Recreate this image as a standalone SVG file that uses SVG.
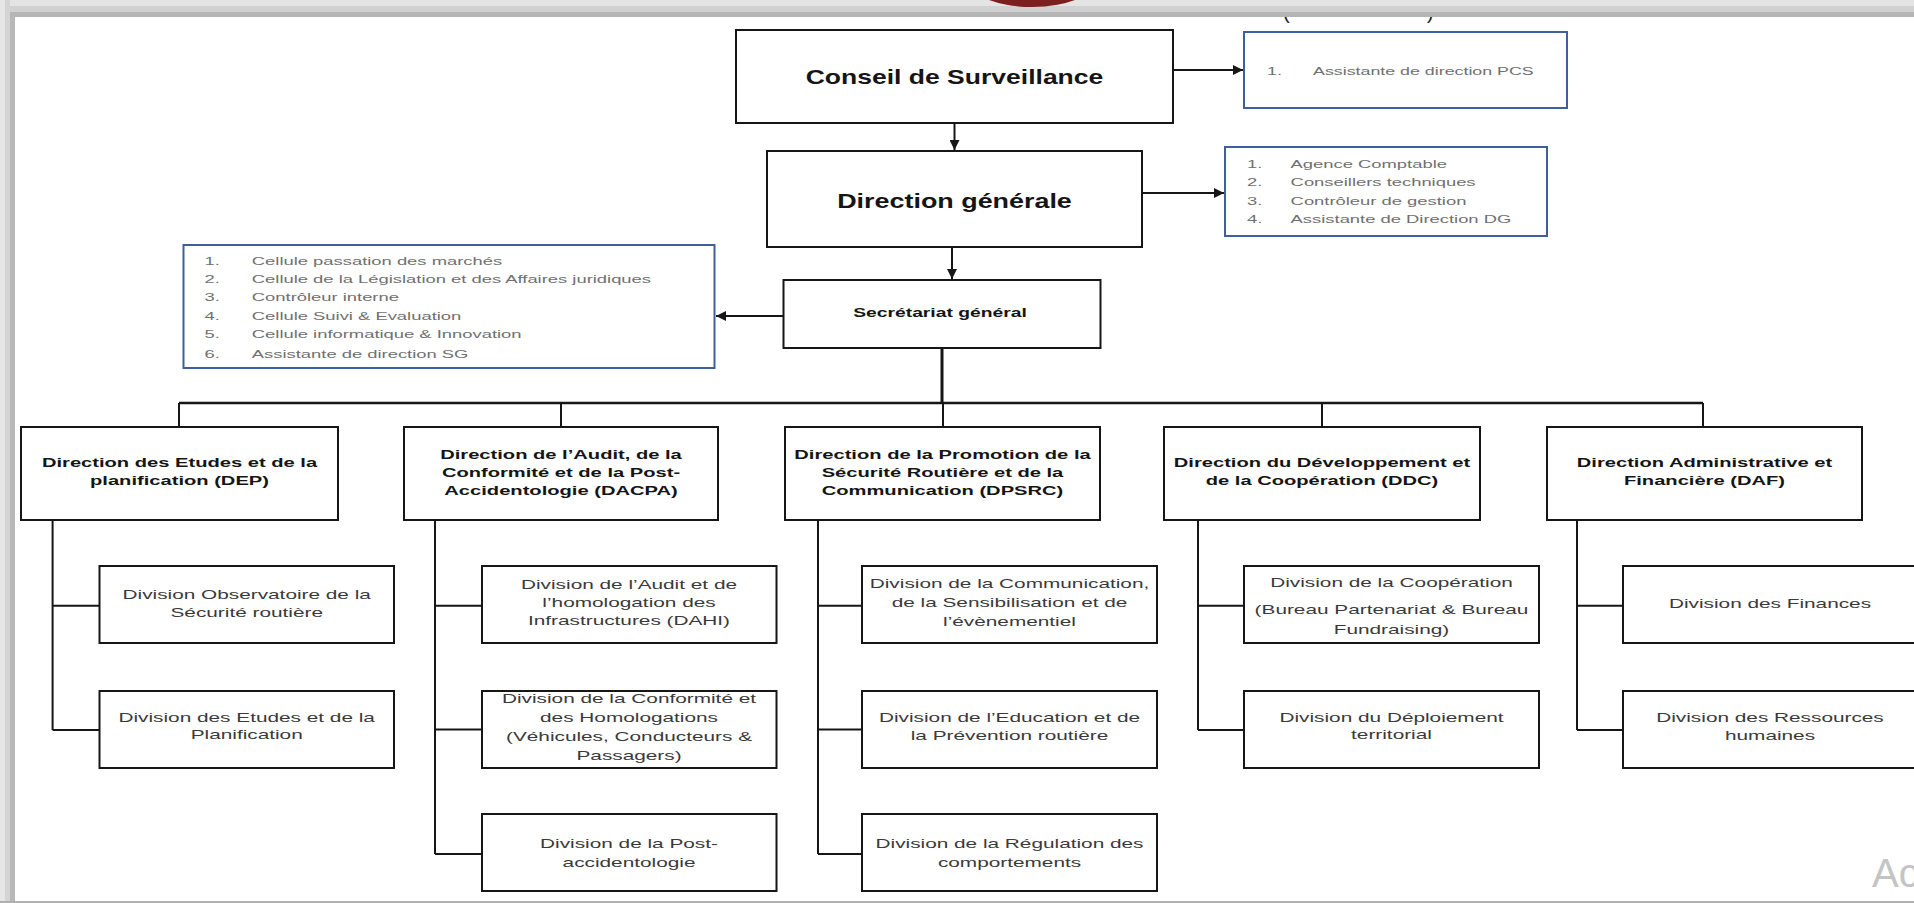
<svg xmlns="http://www.w3.org/2000/svg" width="1914" height="903" viewBox="0 0 1914 903">
<defs>
<style>
.box{fill:#fff;stroke:#161616;stroke-width:2}
.bbox{fill:#fff;stroke:#3e5f9c;stroke-width:2}
.ln{stroke:#161616;stroke-width:2;fill:none}
.b{font-family:"Liberation Sans",Arial,sans-serif;font-weight:bold;fill:#151515;text-anchor:middle}
.d{font-family:"Liberation Sans",Arial,sans-serif;font-size:13px;fill:#3a3a3a;text-anchor:middle}
.t{font-family:"Liberation Sans",Arial,sans-serif;font-weight:bold;font-size:13px;fill:#151515;text-anchor:middle}
.l{font-family:"Liberation Sans",Arial,sans-serif;font-size:11.5px;fill:#707070}
</style>
<marker id="ah" viewBox="0 0 10 10" refX="10" refY="5" markerWidth="10" markerHeight="10" markerUnits="userSpaceOnUse" orient="auto"><path d="M0,0L10,5L0,10z" fill="#161616"/></marker>
</defs>
<rect width="1914" height="903" fill="#fff"/>
<text x="1283" y="19" style="font-family:'Liberation Sans',sans-serif;font-size:20px;fill:#222">(</text>
<text x="1427" y="19" style="font-family:'Liberation Sans',sans-serif;font-size:20px;fill:#222">)</text>
<rect x="0" y="0" width="1914" height="6" fill="#e4e4e4"/>
<rect x="0" y="6" width="1914" height="6" fill="#d1d1d1"/>
<rect x="0" y="12" width="1914" height="5" fill="#b5b5b5"/>
<rect x="0" y="0" width="5" height="903" fill="#e6e6e6"/>
<rect x="5" y="0" width="5" height="903" fill="#d4d4d4"/>
<rect x="10" y="17" width="5" height="886" fill="#b8b8b8"/>
<ellipse cx="1032" cy="-22" rx="66" ry="29" fill="#7e1f1f"/>
<rect x="0" y="901" width="1914" height="2" fill="#b0b0b0"/>

<g id="connectors">
<path class="ln" d="M1173,70H1243" marker-end="url(#ah)"/>
<path class="ln" d="M954.5,123V150" marker-end="url(#ah)"/>
<path class="ln" d="M1142,193H1224" marker-end="url(#ah)"/>
<path class="ln" d="M952,247V279" marker-end="url(#ah)"/>
<path class="ln" d="M783.5,316H716" marker-end="url(#ah)"/>
<path class="ln" style="stroke-width:3" d="M942,348V403"/>
<path class="ln" style="stroke-width:2.5" d="M179,403H1703"/>
<path class="ln" d="M179,403V427M561,403V427M943,403V427M1322,403V427M1703,403V427"/>
<path class="ln" d="M52.6,520V730M52.6,605.7H99.5M52.6,730H99.5"/>
<path class="ln" d="M435,520V854M435,605.7H482M435,729.5H482M435,854H482"/>
<path class="ln" d="M818,520V854M818,605.7H862M818,729.5H862M818,854H862"/>
<path class="ln" d="M1198,520V730M1198,605.7H1244M1198,730H1244"/>
<path class="ln" d="M1577,520V730M1577,605.7H1623M1577,730H1623"/>
</g>

<g id="cs">
<rect class="box" x="736" y="30" width="437" height="93"/>
<text class="b" style="font-size:19.5px" transform="translate(954.5,0) scale(1.36,1)" x="0" y="84">Conseil de Surveillance</text>
</g>
<g id="pcs">
<rect class="bbox" x="1244" y="32" width="323" height="76"/>
<text class="l" transform="translate(1267,0) scale(1.55,1)" x="0" y="75.5">1.</text>
<text class="l" transform="translate(1313,0) scale(1.55,1)" x="0" y="75.5">Assistante de direction  PCS</text>
</g>
<g id="dg">
<rect class="box" x="767" y="151" width="375" height="96"/>
<text class="b" style="font-size:19.5px" transform="translate(954.5,0) scale(1.38,1)" x="0" y="208">Direction générale</text>
</g>
<g id="dglist">
<rect class="bbox" x="1225" y="147" width="322" height="89"/>
<text class="l" transform="translate(1247,0) scale(1.6,1)"><tspan x="0" y="168">1.</tspan><tspan x="0" y="186.3">2.</tspan><tspan x="0" y="204.7">3.</tspan><tspan x="0" y="223">4.</tspan></text>
<text class="l" transform="translate(1290.6,0) scale(1.6,1)"><tspan x="0" y="168">Agence  Comptable</tspan><tspan x="0" y="186.3">Conseillers techniques</tspan><tspan x="0" y="204.7">Contrôleur de gestion</tspan><tspan x="0" y="223">Assistante de Direction  DG</tspan></text>
</g>
<g id="sg">
<rect class="box" x="783.5" y="280" width="317" height="68"/>
<text class="b" style="font-size:13.5px" transform="translate(940,0) scale(1.43,1)" x="0" y="317">Secrétariat général</text>
</g>
<g id="sglist">
<rect class="bbox" x="183.5" y="245" width="531" height="123"/>
<text class="l" transform="translate(204.5,0) scale(1.6,1)"><tspan x="0" y="264.7">1.</tspan><tspan x="0" y="283.3">2.</tspan><tspan x="0" y="301.3">3.</tspan><tspan x="0" y="319.7">4.</tspan><tspan x="0" y="337.7">5.</tspan><tspan x="0" y="357.7">6.</tspan></text>
<text class="l" transform="translate(251.8,0) scale(1.6,1)"><tspan x="0" y="264.7">Cellule passation des marchés</tspan><tspan x="0" y="283.3">Cellule de la Législation et des Affaires  juridiques</tspan><tspan x="0" y="301.3">Contrôleur interne</tspan><tspan x="0" y="319.7">Cellule Suivi &amp; Evaluation</tspan><tspan x="0" y="337.7">Cellule informatique &amp; Innovation</tspan><tspan x="0" y="357.7">Assistante de direction  SG</tspan></text>
</g>

<g id="dep">
<rect class="box" x="21" y="427" width="317" height="93"/>
<text class="t" transform="translate(179.5,0) scale(1.55,1)"><tspan x="0" y="467.5">Direction des Etudes et de la</tspan><tspan x="0" y="485.5">planification (DEP)</tspan></text>
</g>
<g id="dacpa">
<rect class="box" x="404" y="427" width="314" height="93"/>
<text class="t" transform="translate(561,0) scale(1.55,1)"><tspan x="0" y="459.5">Direction de l’Audit, de la</tspan><tspan x="0" y="477.5">Conformité et de la Post-</tspan><tspan x="0" y="495.5">Accidentologie (DACPA)</tspan></text>
</g>
<g id="dpsrc">
<rect class="box" x="785" y="427" width="315" height="93"/>
<text class="t" transform="translate(942.5,0) scale(1.55,1)"><tspan x="0" y="459.5">Direction de la Promotion de la</tspan><tspan x="0" y="477.5">Sécurité Routière et de la</tspan><tspan x="0" y="495.5">Communication (DPSRC)</tspan></text>
</g>
<g id="ddc">
<rect class="box" x="1164" y="427" width="316" height="93"/>
<text class="t" transform="translate(1322,0) scale(1.55,1)"><tspan x="0" y="467.5">Direction du Développement et</tspan><tspan x="0" y="485.5">de la Coopération (DDC)</tspan></text>
</g>
<g id="daf">
<rect class="box" x="1547" y="427" width="315" height="93"/>
<text class="t" transform="translate(1704.5,0) scale(1.55,1)"><tspan x="0" y="467.5">Direction Administrative et</tspan><tspan x="0" y="485.5">Financière (DAF)</tspan></text>
</g>

<g id="div-obs">
<rect class="box" x="99.5" y="566" width="294.5" height="77"/>
<text class="d" transform="translate(246.7,0) scale(1.6,1)"><tspan x="0" y="599.5">Division Observatoire de la</tspan><tspan x="0" y="617">Sécurité routière</tspan></text>
</g>
<g id="div-etudes">
<rect class="box" x="99.5" y="691" width="294.5" height="77"/>
<text class="d" transform="translate(246.7,0) scale(1.6,1)"><tspan x="0" y="722">Division des Etudes et de la</tspan><tspan x="0" y="739.5">Planification</tspan></text>
</g>
<g id="div-dahi">
<rect class="box" x="482" y="566" width="294.5" height="77"/>
<text class="d" transform="translate(629,0) scale(1.6,1)"><tspan x="0" y="589">Division de l’Audit et de</tspan><tspan x="0" y="607">l’homologation des</tspan><tspan x="0" y="625.5">Infrastructures (DAHI)</tspan></text>
</g>
<g id="div-conf">
<rect class="box" x="482" y="691" width="294.5" height="77"/>
<text class="d" transform="translate(629,0) scale(1.6,1)"><tspan x="0" y="703.5">Division de la Conformité et</tspan><tspan x="0" y="722.5">des Homologations</tspan><tspan x="0" y="741.5">(Véhicules, Conducteurs &amp;</tspan><tspan x="0" y="760.5">Passagers)</tspan></text>
</g>
<g id="div-post">
<rect class="box" x="482" y="814" width="294.5" height="77"/>
<text class="d" transform="translate(629,0) scale(1.6,1)"><tspan x="0" y="848.5">Division de la Post-</tspan><tspan x="0" y="867">accidentologie</tspan></text>
</g>
<g id="div-comm">
<rect class="box" x="862" y="566" width="295" height="77"/>
<text class="d" transform="translate(1009.5,0) scale(1.6,1)"><tspan x="0" y="588">Division de la Communication,</tspan><tspan x="0" y="607.5">de la Sensibilisation et de</tspan><tspan x="0" y="626">l’évènementiel</tspan></text>
</g>
<g id="div-educ">
<rect class="box" x="862" y="691" width="295" height="77"/>
<text class="d" transform="translate(1009.5,0) scale(1.6,1)"><tspan x="0" y="722">Division de l’Education et de</tspan><tspan x="0" y="740.5">la Prévention routière</tspan></text>
</g>
<g id="div-reg">
<rect class="box" x="862" y="814" width="295" height="77"/>
<text class="d" transform="translate(1009.5,0) scale(1.6,1)"><tspan x="0" y="848.5">Division de la Régulation des</tspan><tspan x="0" y="867">comportements</tspan></text>
</g>
<g id="div-coop">
<rect class="box" x="1244" y="566" width="295" height="77"/>
<text class="d" transform="translate(1391.5,0) scale(1.6,1)"><tspan x="0" y="587">Division de la Coopération</tspan><tspan x="0" y="614">(Bureau Partenariat &amp; Bureau</tspan><tspan x="0" y="634">Fundraising)</tspan></text>
</g>
<g id="div-deploi">
<rect class="box" x="1244" y="691" width="295" height="77"/>
<text class="d" transform="translate(1391.5,0) scale(1.6,1)"><tspan x="0" y="722.5">Division du Déploiement</tspan><tspan x="0" y="739.5">territorial</tspan></text>
</g>
<g id="div-fin">
<rect class="box" x="1623" y="566" width="300" height="77"/>
<text class="d" transform="translate(1770,0) scale(1.6,1)"><tspan x="0" y="608.5">Division des Finances</tspan></text>
</g>
<g id="div-rh">
<rect class="box" x="1623" y="691" width="300" height="77"/>
<text class="d" transform="translate(1770,0) scale(1.6,1)"><tspan x="0" y="722">Division des Ressources</tspan><tspan x="0" y="740">humaines</tspan></text>
</g>
<text x="1872" y="887" style="font-family:'Liberation Sans',sans-serif;font-size:40px;fill:#c4c4c4">Ac</text>
</svg>
